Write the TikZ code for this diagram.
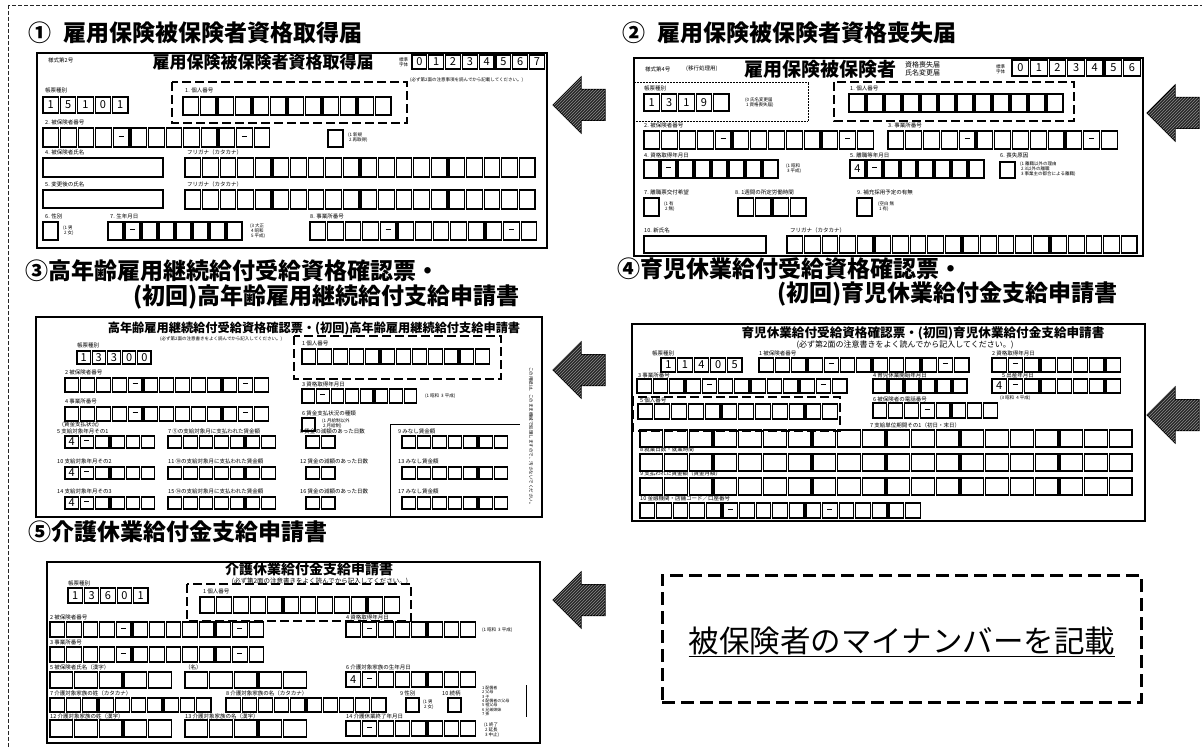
\documentclass[tikz,border=0pt]{standalone}
\usepackage{fontspec}
\newfontfamily\jp{Noto Sans CJK JP}
\usetikzlibrary{shapes.arrows,patterns}

\tikzset{
  outerline/.style = {draw=black!85, line width=0.8, dash pattern=on 4 off 2},
  sheet/.style     = {draw, line width=1.8},
  cell/.style      = {draw, line width=1.35},
  thinbox/.style   = {draw, line width=0.5, densely dotted},
  hilite/.style    = {draw, line width=2.2, dash pattern=on 9 off 4},
  ttl/.style       = {font=\jp\bfseries\fontsize{23}{26}\selectfont, anchor=west, inner sep=0},
  head/.style      = {font=\jp\bfseries\fontsize{#1}{#1}\selectfont, inner sep=0},
  head/.default    = 17,
  lbl/.style       = {font=\jp\fontsize{5.5}{6}\selectfont, anchor=west, inner sep=0},
  tiny/.style      = {font=\jp\fontsize{4.5}{5}\selectfont, anchor=west, inner sep=0, align=left},
  digit/.style     = {font=\jp\fontsize{11}{12}\selectfont, inner sep=0},
  larrow/.style    = {single arrow, shape border rotate=180, draw, line width=1,
                      fill=black!85, minimum height=52, single arrow head extend=12.5,
                      inner sep=0, outer sep=0,
                      postaction={pattern=north east lines, pattern color=black!45}},
  notebox/.style   = {draw, line width=3, dash pattern=on 13 off 6,
                      minimum width=479, minimum height=127, inner sep=0},
  notetxt/.style   = {font=\jp\fontsize{30.5}{32}\selectfont, inner sep=0}
}

% one row of boxes: name, x, y, pitch, height, marks (o = empty, - = bar)
\newcommand\dsh{\rule[2.6pt]{5pt}{1.2pt}}
\newcommand\cellmark[1]{\if#1o\else\if#1-\dsh\else#1\fi\fi}
\newcommand\cells[6]{%
  \foreach \cm [count=\k] in {#6}{
    \draw[cell] (#2+\k*#4-#4, #3) rectangle ++(#4-2, #5);
    \node[digit] (#1\k) at (#2+\k*#4-#4/2-1, #3+#5/2) {\cellmark{\cm}};
  }%
}
% empty boxes only: x, y, pitch, height, count
\newcommand\blanks[5]{%
  \foreach \k in {1,...,#5}
    \draw[cell] (#1+\k*#3-#3, #2) rectangle ++(#3-2, #4);
}

\begin{document}
\begin{tikzpicture}[x=1pt, y=-1pt]
	\useasboundingbox (0,0) rectangle (1202,749);
	\clip (0,0) rectangle (1202,749);

	% Outer frame
	\draw[outerline] (8,5) rectangle (1240,790);

	% Titles
	\node[ttl] (t1)  at (28,33)   {①\hspace{.55em}雇用保険被保険者資格取得届};
	\node[ttl] (t2)  at (622,33)  {②\hspace{.55em}雇用保険被保険者資格喪失届};
	\node[ttl] (t3a) at (25,271)  {③高年齢雇用継続給付受給資格確認票・};
	\node[ttl] (t3b) at (133,297) {(初回)高年齢雇用継続給付支給申請書};
	\node[ttl] (t4a) at (617,269) {④育児休業給付受給資格確認票・};
	\node[ttl, anchor=east] (t4b) at (1118,294) {(初回)育児休業給付金支給申請書};
	\node[ttl] (t5)  at (28,532)  {⑤介護休業給付金支給申請書};

	% Form 1
	\draw[sheet] (37,53) rectangle (547,248);
	\node[lbl] (f1no) at (48,60) {様式第2号};
	\node[head] (f1h) at (263,62) {雇用保険被保険者資格取得届};
	\node[tiny, align=center] (f1std) at (399,62) {標準\\字体};
	\cells{f1d}{412}{55}{16.8}{14}{0,1,2,3,4,5,6,7}
	\node[tiny] (f1nt) at (410,80) {(必ず第2面の注意事項を読んでから記載してください。)};
	\node[lbl] (f1kl) at (45,90) {帳票種別};
	\cells{f1k}{43}{97}{17.4}{16}{1,5,1,0,1}
	\draw[hilite] (172,82) rectangle (407,123);
	\node[lbl] (f1pl) at (185,90) {1. 個人番号};
	\blanks{183}{97}{17.5}{18}{12}
	\node[lbl] (f1il) at (45,122) {2. 被保険者番号};
	\cells{f1i}{43}{128}{17.6}{19}{o,o,o,o,-,o,o,o,o,o,o,-,o}
	\cells{f1q}{328}{130}{17}{17}{o}
	\node[tiny] (f1qt) at (348,138) {(1 新規\\\ 2 再取得)};
	\node[lbl] (f1nl) at (45,152) {4. 被保険者氏名};
	\draw[cell] (43,158) rectangle (163,177);
	\node[lbl] (f1fl) at (187,152) {フリガナ（カタカナ）};
	\blanks{185}{158}{17.6}{19}{20}
	\node[lbl] (f1cl) at (45,184) {5. 変更後の氏名};
	\draw[cell] (43,190) rectangle (163,208);
	\node[lbl] (f1gl) at (187,184) {フリガナ（カタカナ）};
	\blanks{185}{190}{17.6}{19}{20}
	\node[lbl] (f1sl) at (45,216) {6. 性別};
	\blanks{43}{222}{17}{18}{1}
	\node[tiny] (f1st) at (63,231) {(1 男\\\ 2 女)};
	\node[lbl] (f1bl) at (110,216) {7. 生年月日};
	\cells{f1b}{108}{222}{17}{18}{o,-,o,o,o,o,o,o}
	\node[tiny] (f1bt) at (250,231) {(3 大正\\\ 4 昭和\\\ 5 平成)};
	\node[lbl] (f1jl) at (310,216) {8. 事業所番号};
	\cells{f1j}{310}{222}{17.6}{18}{o,o,o,o,-,o,o,o,o,o,o,-,o}

	% Form 2
	\draw[sheet] (634,58) rectangle (1143,256);
	\node[lbl] (f2no) at (645,69) {様式第4号};
	\node[lbl] (f2mv) at (686,69) {(移行処理用)};
	\node[head=19] (f2h) at (820,69) {雇用保険被保険者};
	\node[tiny, font=\jp\fontsize{7}{8}\selectfont] (f2ht) at (905,69) {資格喪失届\\氏名変更届};
	\node[tiny, align=center] (f2std) at (996,69) {標準\\字体};
	\cells{f2d}{1012}{60}{18.6}{16}{0,1,2,3,4,5,6}
	\draw[thinbox] (634,82) rectangle (808,121);
	\node[lbl] (f2kl) at (644,88) {帳票種別};
	\cells{f2k}{644}{94}{17.4}{17}{1,3,1,9,o}
	\node[tiny] (f2kt) at (745,103) {(0 氏名変更届\\\ 1 資格喪失届)};
	\draw[hilite] (834,82) rectangle (1074,121);
	\node[lbl] (f2pl) at (850,88) {1. 個人番号};
	\blanks{849}{94}{18}{18}{12}
	\node[lbl] (f2il) at (644,125) {2. 被保険者番号};
	\cells{f2i}{644}{131}{17.8}{18}{o,o,o,o,-,o,o,o,o,o,o,-,o}
	\node[lbl] (f2jl) at (888,125) {3. 事業所番号};
	\cells{f2j}{888}{131}{17.8}{18}{o,o,o,o,-,o,o,o,o,o,o,-,o}
	\node[lbl] (f2al) at (644,155) {4. 資格取得年月日};
	\cells{f2a}{644}{160}{17}{18}{o,-,o,o,o,o,o,o}
	\node[tiny] (f2at) at (786,169) {(1 昭和\\\ 3 平成)};
	\node[lbl] (f2ll) at (850,155) {5. 離職等年月日};
	\cells{f2l}{850}{160}{17}{18}{4,-,o,o,o,o,o,o}
	\node[lbl] (f2rl) at (1000,155) {6. 喪失原因};
	\blanks{1000}{162}{17}{16}{1}
	\node[tiny] (f2rt) at (1020,169) {(1 離職以外の理由\\\ 2 3以外の離職\\\ 3 事業主の都合による離職)};
	\node[lbl] (f2hl) at (644,192) {7. 離職票交付希望};
	\blanks{644}{198}{17}{18}{1}
	\node[tiny] (f2ht2) at (664,207) {(1 有\\\ 2 無)};
	\node[lbl] (f2wl) at (735,192) {8. 1週間の所定労働時間};
	\blanks{738}{198}{17.5}{18}{4}
	\node[lbl] (f2ql) at (857,192) {9. 補充採用予定の有無};
	\blanks{857}{198}{17}{18}{1}
	\node[tiny] (f2qt) at (878,207) {(空白 無\\\ 1 有)};
	\node[lbl] (f2nl) at (644,230) {10. 新氏名};
	\draw[cell] (644,236) rectangle (766,253);
	\node[lbl] (f2fl) at (790,230) {フリガナ（カタカナ）};
	\blanks{787}{236}{17.6}{17}{20}

	% Form 3
	\draw[sheet] (36,317) rectangle (542,517);
	\node[head=12.2] (f3h) at (314,328) {高年齢雇用継続給付受給資格確認票・(初回)高年齢雇用継続給付支給申請書};
	\node[tiny] (f3nt) at (160,339) {(必ず第2面の注意書きをよく読んでから記入してください。)};
	\node[lbl] (f3kl) at (77,345) {帳票種別};
	\cells{f3k}{77}{351}{15.2}{13}{1,3,3,0,0}
	\draw[hilite] (294,336) rectangle (501,379);
	\node[lbl] (f3pl) at (302,343) {1 個人番号};
	\blanks{302}{349}{15.8}{15}{12}
	\node[lbl] (f3il) at (65,372) {2 被保険者番号};
	\cells{f3i}{65}{378}{15.8}{14}{o,o,o,o,-,o,o,o,o,o,o,-,o}
	\node[lbl] (f3al) at (302,384) {3 資格取得年月日};
	\cells{f3a}{302}{389}{14.6}{14}{o,-,o,o,o,o,o,o}
	\node[tiny] (f3at) at (425,396) {(1 昭和\ \ 3 平成)};
	\node[lbl] (f3jl) at (65,401) {4 事業所番号};
	\cells{f3j}{65}{407}{15.8}{14}{o,o,o,o,-,o,o,o,o,o,o,-,o}
	\node[lbl] (f3cl) at (302,413) {6 賃金支払状況の種類};
	\blanks{302}{418}{15}{13}{1}
	\node[tiny] (f3ct) at (322,424) {(1 月給制以外\\\ 2 月給制)};
	\node[lbl] (f3wl) at (62,425) {(賃金支払状況)};
	\draw[line width=0.6] (390,517) |- (520,424);
	% rows of wage data
	\node[lbl] (f3r1a) at (57,431)  {5 支給対象年月その1};
	\node[lbl] (f3r1b) at (168,431) {7 ⑤の支給対象月に支払われた賃金額};
	\node[lbl] (f3r1c) at (300,431) {8 賃金の減額のあった日数};
	\node[lbl] (f3r1d) at (398,431) {9 みなし賃金額};
	\cells{f3ra}{65}{436}{15.3}{12}{4,-,o,o,o,o}
	\blanks{168}{436}{15.6}{12}{7}
	\blanks{306}{436}{15.5}{12}{2}
	\blanks{402}{436}{15.4}{12}{7}
	\node[lbl] (f3r2a) at (57,461)  {10 支給対象年月その2};
	\node[lbl] (f3r2b) at (168,461) {11 ⑩の支給対象月に支払われた賃金額};
	\node[lbl] (f3r2c) at (300,461) {12 賃金の減額のあった日数};
	\node[lbl] (f3r2d) at (398,461) {13 みなし賃金額};
	\cells{f3rb}{65}{467}{15.3}{12}{4,-,o,o,o,o}
	\blanks{168}{467}{15.6}{12}{7}
	\blanks{306}{467}{15.5}{12}{2}
	\blanks{402}{467}{15.4}{12}{7}
	\node[lbl] (f3r3a) at (57,491)  {14 支給対象年月その3};
	\node[lbl] (f3r3b) at (168,491) {15 ⑭の支給対象月に支払われた賃金額};
	\node[lbl] (f3r3c) at (300,491) {16 賃金の減額のあった日数};
	\node[lbl] (f3r3d) at (398,491) {17 みなし賃金額};
	\cells{f3rc}{65}{497}{15.3}{12}{4,-,o,o,o,o}
	\blanks{168}{497}{15.6}{12}{7}
	\blanks{306}{497}{15.5}{12}{2}
	\blanks{402}{497}{15.4}{12}{7}
	\node[tiny, rotate=-90, anchor=center] (f3side) at (531,437) {この用紙は、このまま機械で処理しますので、汚さないでください。};

	% Form 4
	\draw[sheet] (632,324) rectangle (1145,521);
	\node[head=12.6] (f4h) at (923,333) {育児休業給付受給資格確認票・(初回)育児休業給付金支給申請書};
	\node[tiny, anchor=center, font=\jp\fontsize{8}{9}\selectfont] (f4nt) at (905,345) {(必ず第2面の注意書きをよく読んでから記入してください。)};
	\node[lbl] (f4kl) at (652,353) {帳票種別};
	\cells{f4k}{661}{358}{16.6}{14}{1,1,4,0,5}
	\node[lbl] (f4il) at (759,353) {1 被保険者番号};
	\cells{f4i}{759}{358}{16.3}{14}{o,o,o,o,-,o,o,o,o,o,o,-,o}
	\node[lbl] (f4al) at (992,353) {2 資格取得年月日};
	\cells{f4a}{992}{358}{16.3}{14}{o,-,o,o,o,o,o,o}
	\node[lbl] (f4jl) at (638,375) {3 事業所番号};
	\cells{f4j}{637}{379}{16.3}{14}{o,o,o,o,-,o,o,o,o,o,o,-,o}
	\node[lbl] (f4dl) at (873,375) {4 育児休業開始年月日};
	\blanks{873}{379}{16}{14}{6}
	\node[lbl] (f4bl) at (1002,375) {5 出産年月日};
	\cells{f4b}{992}{379}{16.3}{14}{4,-,o,o,o,o,o,o}
	\node[tiny] (f4bt) at (1000,398) {(3 昭和\ \ 4 平成)};
	\draw[hilite] (633,397) rectangle (840,431);
	\node[lbl] (f4pl) at (640,400) {5 個人番号};
	\blanks{638}{404}{16.8}{15}{12}
	\node[lbl] (f4cl) at (873,399) {6 被保険者の電話番号};
	\cells{f4c}{873}{403}{15.8}{15}{o,o,o,-,o,o,o,o}
	\node[lbl] (f4r4) at (870,425) {7 支給単位期間その1（初日・末日）};
	\blanks{640}{430}{24.7}{17}{20}
	\node[lbl] (f4r5) at (640,449) {8 就業日数・就業時間};
	\blanks{640}{454}{24.7}{17}{20}
	\node[lbl] (f4r6) at (640,473) {9 支払われた賃金額（賃金月額）};
	\blanks{640}{478}{24.7}{17}{20}
	\node[lbl] (f4r7) at (640,498) {10 金融機関・店舗コード／口座番号};
	\cells{f4m}{640}{503}{16.6}{15}{o,o,o,o,o,-,o,o,o,o,o,-,o,o,o,o,o}

	% Form 5
	\draw[sheet] (47,562) rectangle (540,743);
	\node[head=14] (f5h) at (309,569) {介護休業給付金支給申請書};
	\node[tiny, anchor=center, font=\jp\fontsize{6.5}{7}\selectfont] (f5nt) at (320,581) {(必ず第2面の注意書きをよく読んでから記入してください。)};
	\node[lbl] (f5kl) at (68,583) {帳票種別};
	\cells{f5k}{68}{588}{16.4}{15}{1,3,6,0,1}
	\draw[hilite] (187,584) rectangle (411,621);
	\node[lbl] (f5pl) at (203,591) {1 個人番号};
	\blanks{200}{597}{16.8}{16}{12}
	\node[lbl] (f5il) at (50,617) {2 被保険者番号};
	\cells{f5i}{50}{622}{16.6}{15}{o,o,o,o,-,o,o,o,o,o,o,-,o}
	\node[lbl] (f5al) at (346,617) {4 資格取得年月日};
	\cells{f5a}{346}{622}{16.4}{15}{o,-,o,o,o,o,o,o}
	\node[tiny] (f5at) at (482,630) {(1 昭和\ \ 3 平成)};
	\node[lbl] (f5jl) at (50,642) {3 事業所番号};
	\cells{f5j}{50}{647}{16.6}{15}{o,o,o,o,-,o,o,o,o,o,o,-,o}
	\node[lbl] (f5sl) at (50,667) {5 被保険者氏名（漢字）};
	\blanks{50}{672}{24.7}{16}{5}
	\node[lbl] (f5nl) at (185,667) {（名）};
	\blanks{185}{672}{24.7}{16}{5}
	\node[lbl] (f5bl) at (346,667) {6 介護対象家族の生年月日};
	\cells{f5b}{346}{672}{16.4}{15}{4,-,o,o,o,o,o,o}
	\node[lbl] (f5k1l) at (50,693) {7 介護対象家族の姓（カタカナ）};
	\blanks{50}{698}{16.3}{14}{10}
	\node[lbl] (f5k2l) at (226,693) {8 介護対象家族の名（カタカナ）};
	\blanks{226}{698}{16.2}{14}{10}
	\node[lbl] (f5gl) at (400,693) {9 性別};
	\blanks{406}{698}{15}{14}{1}
	\node[tiny] (f5gt) at (423,705) {(1 男\\\ 2 女)};
	\node[lbl] (f5rl) at (442,693) {10 続柄};
	\blanks{448}{698}{15}{14}{1}
	\node[tiny, font=\jp\fontsize{4}{4.4}\selectfont] (f5rt) at (482,701) {1 配偶者\\2 父母\\3 子\\4 配偶者の父母\\5 祖父母\\6 兄弟姉妹\\7 孫};
	\draw[line width=0.8] (526,685) -- (526,717);
	\node[lbl] (f5m1l) at (50,716) {12 介護対象家族の姓（漢字）};
	\blanks{50}{720}{24.7}{17}{5}
	\node[lbl] (f5m2l) at (185,716) {13 介護対象家族の名（漢字）};
	\blanks{185}{720}{24.7}{17}{5}
	\node[lbl] (f5el) at (346,716) {14 介護休業終了年月日};
	\cells{f5e}{346}{721}{16.4}{15}{o,-,o,o,o,o,o,o}
	\node[tiny] (f5et) at (484,730) {(1 終了\\\ 2 延長\\\ 3 中止)};

	% Arrows
	\node[larrow, anchor=tip] (a1) at (553,105)  {\rule{0pt}{30pt}};
	\node[larrow, anchor=tip] (a2) at (1147,113) {\rule{0pt}{30pt}};
	\node[larrow, anchor=tip] (a3) at (553,370)  {\rule{0pt}{30pt}};
	\node[larrow, anchor=tip] (a4) at (1147,415) {\rule{0pt}{30pt}};
	\node[larrow, anchor=tip] (a5) at (553,600)  {\rule{0pt}{30pt}};

	% Note
	\node[notebox] (nb) at (901.5,638.5) {};
	\node[notetxt] (nt) at (902,641) {被保険者のマイナンバーを記載};
	\draw[line width=1.3] ([yshift=-4pt]nt.base west) -- ([yshift=-4pt]nt.base east);

\end{tikzpicture}
\end{document}
